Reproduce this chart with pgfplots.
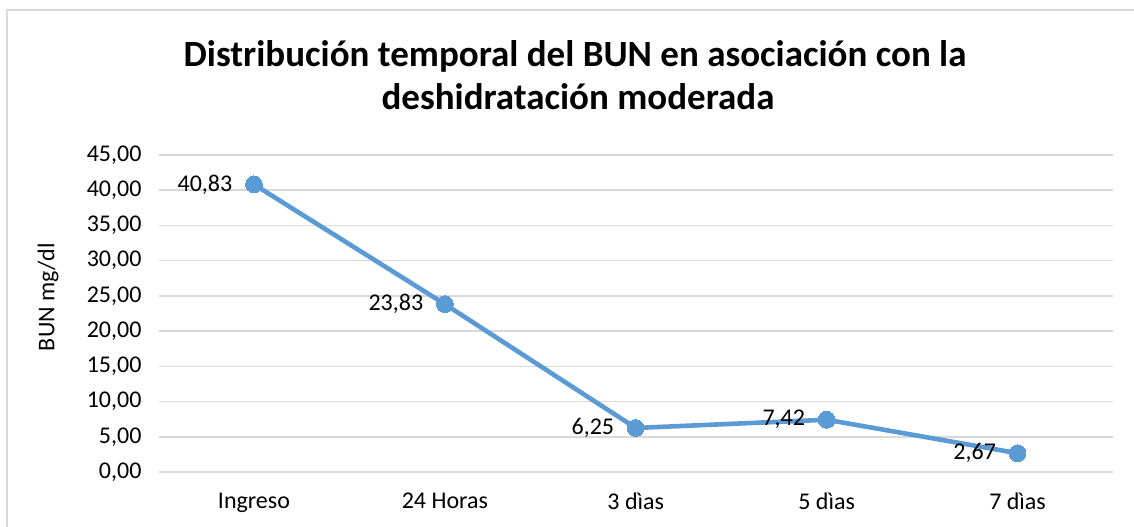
\documentclass[border=0pt]{standalone}
\usepackage{fontspec}
\setmainfont{Carlito}
\usepackage{pgfplots}
\pgfplotsset{compat=1.18}
\definecolor{lineblue}{HTML}{5B9BD5}
\definecolor{gridgray}{HTML}{D9D9D9}
\definecolor{framegray}{HTML}{D9D9D9}
\begin{document}
\begin{tikzpicture}
\path[use as bounding box] (0,0) rectangle (567pt,263pt);
\draw[framegray, line width=0.6pt] (3.5pt,-5pt) -- (3.5pt,258pt) -- (575pt,258pt);
\node[anchor=base, font=\bfseries\fontsize{18.5}{22}\selectfont] at (287.5pt,229.5pt) {Distribución temporal del BUN en asociación con la};
\node[anchor=base, font=\bfseries\fontsize{18.5}{22}\selectfont] at (289pt,208pt) {deshidratación moderada};
\node[rotate=90, font=\fontsize{12}{14}\selectfont] at (24pt,114.5pt) {BUN mg/dl};
\begin{axis}[
  at={(79.25pt,27pt)}, anchor=south west,
  width=477.25pt, height=158.5pt, scale only axis,
  xmin=-0.5, xmax=4.5, ymin=0, ymax=45,
  xtick={0,1,2,3,4},
  xticklabels={Ingreso,24 Horas,3 dìas,5 dìas,7 dìas},
  ytick={0,5,...,45},
  ymajorgrids,
  major grid style={gridgray, line width=0.8pt},
  axis line style={draw=none},
  major tick length=0pt,
  tick label style={font=\fontsize{12}{14}\selectfont},
  yticklabel style={xshift=-5pt},
  xticklabel style={yshift=-7pt},
  /pgf/number format/.cd, use comma, fixed, fixed zerofill, precision=2, assume math mode=true,
]
\addplot[lineblue, line width=2.3pt, mark=*, mark size=4.2pt, mark options={fill=lineblue, draw=lineblue, line width=0pt},
  nodes near coords, point meta=explicit symbolic,
  every node near coord/.style={anchor=east, xshift=-7.5pt, yshift=0pt, font=\fontsize{12}{14}\selectfont, text=black}]
  table[meta=lab] {
x y lab
0 40.83 {40,83}
1 23.83 {23,83}
2 6.25 {6,25}
3 7.42 {7,42}
4 2.67 {2,67}
};
\end{axis}
\end{tikzpicture}
\end{document}
